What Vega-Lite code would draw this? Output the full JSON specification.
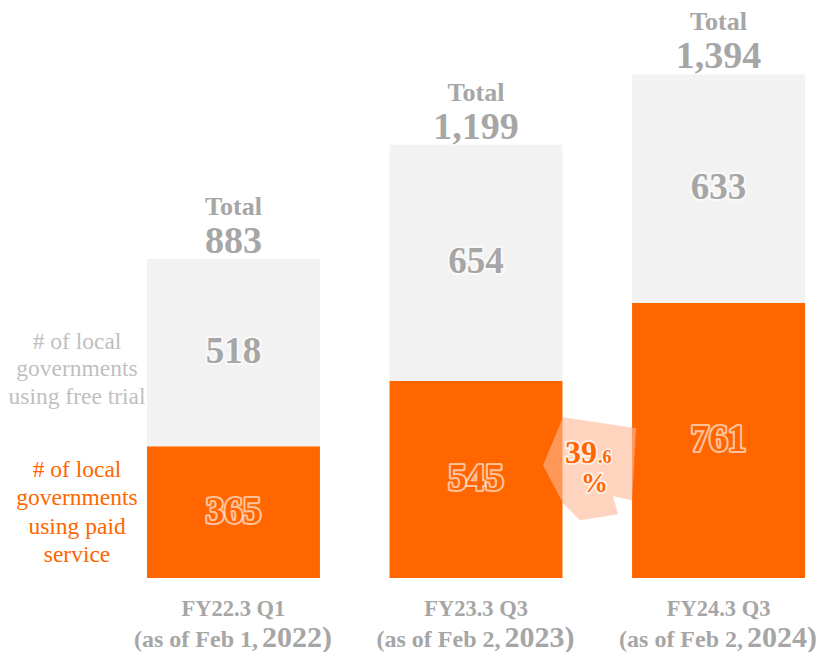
{
  "$schema": "https://vega.github.io/schema/vega-lite/v6.json",
  "width": 819,
  "height": 578,
  "autosize": {"type": "none"},
  "padding": {"left": 0, "top": 0, "right": 0, "bottom": 74},
  "background": "white",
  "config": {"view": {"stroke": null}, "font": "Liberation Serif"},
  "datasets": {
    "bars": [
      {"cat": "FY22.3 Q1|(as of Feb 1,|2022)", "series": "paid", "value": 365, "legend": ["# of local", "governments", "using paid", "service"]},
      {"cat": "FY22.3 Q1|(as of Feb 1,|2022)", "series": "free", "value": 518, "legend": ["# of local", "governments", "using free trial"]},
      {"cat": "FY23.3 Q3|(as of Feb 2,|2023)", "series": "paid", "value": 545},
      {"cat": "FY23.3 Q3|(as of Feb 2,|2023)", "series": "free", "value": 654},
      {"cat": "FY24.3 Q3|(as of Feb 2,|2024)", "series": "paid", "value": 761},
      {"cat": "FY24.3 Q3|(as of Feb 2,|2024)", "series": "free", "value": 633}
    ],
    "growth": [
      {"cat": "FY24.3 Q3|(as of Feb 2,|2024)", "int": "39", "dec": ".6", "unit": "%"}
    ]
  },
  "resolve": {"axis": {"x": "independent"}},
  "layer": [
    {
      "data": {"name": "bars"},
      "mark": {"type": "bar"},
      "encoding": {
        "x": {
          "field": "cat", "type": "nominal",
          "scale": {"paddingInner": 0.287, "paddingOuter": 0.332, "align": 0.913},
          "axis": {"orient": "bottom", "title": null, "domain": false, "ticks": false, "tickSize": 0, "labelPadding": 37, "labelBaseline": "alphabetic", "labelAngle": 0, "labelAlign": "center", "labelFont": "Liberation Serif", "labelFontWeight": "bold", "labelFontSize": 22.5, "labelColor": "#A6A6A6", "labelLimit": 400, "labelOverlap": false, "labelExpr": "split(datum.value, '|')[0]"}
        },
        "y": {"field": "value", "type": "quantitative", "stack": "zero", "scale": {"domain": [0, 1600], "nice": false}, "axis": null},
        "color": {"field": "series", "type": "nominal", "scale": {"domain": ["paid", "free"], "range": ["#FF6600", "#F2F2F2"]}, "legend": null},
        "order": {"field": "series", "sort": "descending"}
      }
    },
    {
      "data": {"name": "growth"},
      "mark": {"type": "point", "shape": "M-0.94,-0.06L-0.54,-1.02L0.92,-0.8L0.84,0.64L0.46,0.56L0.56,0.92L-0.2,1.04L-0.54,0.7Z", "size": 10000, "filled": true, "color": "#FFB892", "opacity": 0.6, "strokeWidth": 0, "xOffset": -128.5},
      "encoding": {
        "x": {"field": "cat", "type": "nominal", "axis": null},
        "y": {"datum": 304, "type": "quantitative"}
      }
    },
    {
      "data": {"name": "bars"},
      "mark": {"type": "text", "font": "Liberation Serif", "fontWeight": "bold", "fontSize": 37, "baseline": "alphabetic", "dy": 10.5, "fill": "white", "stroke": "white", "strokeWidth": 4, "strokeOpacity": 0.6, "strokeJoin": "round"},
      "encoding": {
        "x": {
          "field": "cat", "type": "nominal",
          "axis": {"orient": "bottom", "title": null, "domain": false, "ticks": false, "tickSize": 0, "labelPadding": 68, "labelBaseline": "alphabetic", "labelAngle": 0, "labelAlign": "right", "labelOffset": 24.5, "labelFont": "Liberation Serif", "labelFontWeight": "bold", "labelFontSize": 24, "labelColor": "#A6A6A6", "labelLimit": 400, "labelOverlap": false, "labelExpr": "split(datum.value, '|')[1]"}
        },
        "y": {"field": "value", "type": "quantitative", "stack": "zero", "bandPosition": 0.5},
        "detail": {"field": "series"},
        "order": {"field": "series", "sort": "descending"},
        "text": {"field": "value", "type": "quantitative", "format": ","}
      }
    },
    {
      "data": {"name": "bars"},
      "mark": {"type": "text", "font": "Liberation Serif", "fontWeight": "bold", "fontSize": 37, "baseline": "alphabetic", "dy": 10.5},
      "encoding": {
        "x": {
          "field": "cat", "type": "nominal",
          "axis": {"orient": "bottom", "title": null, "domain": false, "ticks": false, "tickSize": 0, "labelPadding": 68, "labelBaseline": "alphabetic", "labelAngle": 0, "labelAlign": "left", "labelOffset": 28.5, "labelFont": "Liberation Serif", "labelFontWeight": "bold", "labelFontSize": 30, "labelColor": "#A6A6A6", "labelLimit": 400, "labelOverlap": false, "labelExpr": "split(datum.value, '|')[2]"}
        },
        "y": {"field": "value", "type": "quantitative", "stack": "zero", "bandPosition": 0.5},
        "detail": {"field": "series"},
        "order": {"field": "series", "sort": "descending"},
        "color": {"condition": {"test": "datum.series === 'paid'", "value": "#FF6600"}, "value": "#A6A6A6"},
        "text": {"field": "value", "type": "quantitative", "format": ","}
      }
    },
    {
      "data": {"name": "bars"},
      "mark": {"type": "text", "font": "Liberation Serif", "fontWeight": "bold", "fontSize": 26, "baseline": "alphabetic", "dy": -44, "color": "#A6A6A6"},
      "encoding": {
        "x": {"field": "cat", "type": "nominal", "axis": null},
        "y": {"aggregate": "sum", "field": "value", "type": "quantitative"},
        "text": {"value": "Total"}
      }
    },
    {
      "data": {"name": "bars"},
      "mark": {"type": "text", "font": "Liberation Serif", "fontWeight": "bold", "fontSize": 38, "baseline": "alphabetic", "dy": -6, "color": "#A6A6A6"},
      "encoding": {
        "x": {"field": "cat", "type": "nominal", "axis": null},
        "y": {"aggregate": "sum", "field": "value", "type": "quantitative"},
        "text": {"aggregate": "sum", "field": "value", "type": "quantitative", "format": ","}
      }
    },
    {
      "data": {"name": "bars"},
      "mark": {"type": "text", "font": "Liberation Serif", "fontSize": 23.5, "lineHeight": 28.3, "baseline": "middle", "align": "center", "dx": -70, "dy": -42, "color": "#FF6600"},
      "encoding": {
        "x": {"field": "cat", "type": "nominal", "axis": null, "bandPosition": 0},
        "y": {"field": "value", "type": "quantitative", "stack": "zero", "bandPosition": 0.5},
        "detail": {"field": "series"},
        "order": {"field": "series", "sort": "descending"},
        "text": {"condition": {"test": "datum.series === 'paid' && isValid(datum.legend)", "field": "legend"}, "value": ""}
      }
    },
    {
      "data": {"name": "bars"},
      "mark": {"type": "text", "font": "Liberation Serif", "fontSize": 23.5, "lineHeight": 27.7, "baseline": "middle", "align": "center", "dx": -70, "dy": -11, "color": "#BFBFBF"},
      "encoding": {
        "x": {"field": "cat", "type": "nominal", "axis": null, "bandPosition": 0},
        "y": {"field": "value", "type": "quantitative", "stack": "zero", "bandPosition": 0.5},
        "detail": {"field": "series"},
        "order": {"field": "series", "sort": "descending"},
        "text": {"condition": {"test": "datum.series === 'free' && isValid(datum.legend)", "field": "legend"}, "value": ""}
      }
    },
    {
      "data": {"name": "growth"},
      "mark": {"type": "text", "font": "Liberation Serif", "fontWeight": "bold", "fontSize": 32, "baseline": "alphabetic", "align": "right", "xOffset": -128.5, "dx": 7, "dy": -5, "fill": "white", "stroke": "white", "strokeWidth": 4, "strokeOpacity": 0.6, "strokeJoin": "round"},
      "encoding": {"x": {"field": "cat", "type": "nominal", "axis": null}, "y": {"datum": 304, "type": "quantitative"}, "text": {"field": "int"}}
    },
    {
      "data": {"name": "growth"},
      "mark": {"type": "text", "font": "Liberation Serif", "fontWeight": "bold", "fontSize": 32, "baseline": "alphabetic", "align": "right", "xOffset": -128.5, "dx": 7, "dy": -5, "color": "#FF6600"},
      "encoding": {"x": {"field": "cat", "type": "nominal", "axis": null}, "y": {"datum": 304, "type": "quantitative"}, "text": {"field": "int"}}
    },
    {
      "data": {"name": "growth"},
      "mark": {"type": "text", "font": "Liberation Serif", "fontWeight": "bold", "fontSize": 18, "baseline": "alphabetic", "align": "left", "xOffset": -128.5, "dx": 8, "dy": -5, "fill": "white", "stroke": "white", "strokeWidth": 3.5, "strokeOpacity": 0.6, "strokeJoin": "round"},
      "encoding": {"x": {"field": "cat", "type": "nominal", "axis": null}, "y": {"datum": 304, "type": "quantitative"}, "text": {"field": "dec"}}
    },
    {
      "data": {"name": "growth"},
      "mark": {"type": "text", "font": "Liberation Serif", "fontWeight": "bold", "fontSize": 18, "baseline": "alphabetic", "align": "left", "xOffset": -128.5, "dx": 8, "dy": -5, "color": "#FF6600"},
      "encoding": {"x": {"field": "cat", "type": "nominal", "axis": null}, "y": {"datum": 304, "type": "quantitative"}, "text": {"field": "dec"}}
    },
    {
      "data": {"name": "growth"},
      "mark": {"type": "text", "font": "Liberation Serif", "fontWeight": "bold", "fontSize": 27, "baseline": "alphabetic", "align": "center", "xOffset": -128.5, "dx": 4.5, "dy": 24, "fill": "white", "stroke": "white", "strokeWidth": 4, "strokeOpacity": 0.6, "strokeJoin": "round"},
      "encoding": {"x": {"field": "cat", "type": "nominal", "axis": null}, "y": {"datum": 304, "type": "quantitative"}, "text": {"field": "unit"}}
    },
    {
      "data": {"name": "growth"},
      "mark": {"type": "text", "font": "Liberation Serif", "fontWeight": "bold", "fontSize": 27, "baseline": "alphabetic", "align": "center", "xOffset": -128.5, "dx": 4.5, "dy": 24, "color": "#FF6600"},
      "encoding": {"x": {"field": "cat", "type": "nominal", "axis": null}, "y": {"datum": 304, "type": "quantitative"}, "text": {"field": "unit"}}
    }
  ]
}
